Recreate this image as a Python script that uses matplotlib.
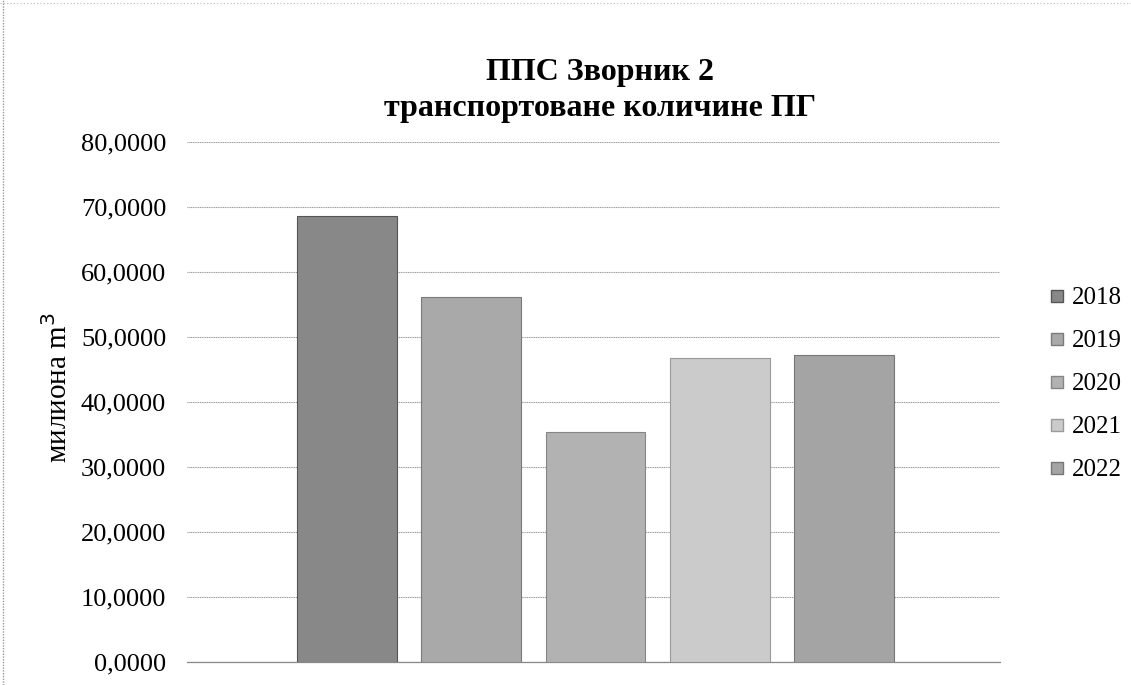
import matplotlib.pyplot as plt
from matplotlib.lines import Line2D

# data
years = ['2018', '2019', '2020', '2021', '2022']
volumes = [68.6, 56.2, 35.4, 46.8, 47.3]  # милиона m3
bar_colors = ['#888888', '#a9a9a9', '#b2b2b2', '#cbcbcb', '#a4a4a4']
edge_colors = ['#555555', '#7a7a7a', '#858585', '#9a9a9a', '#777777']
y_ticks = [0, 10, 20, 30, 40, 50, 60, 70, 80]

plt.rcParams['font.family'] = ['Liberation Serif', 'DejaVu Serif']

fig = plt.figure(figsize=(11.31, 6.85), dpi=100)
ax = fig.add_axes([187 / 1131, 1 - 662 / 685, (1000 - 187) / 1131, (662 - 142) / 685])

for i, (yr, val) in enumerate(zip(years, volumes)):
    ax.bar(i, val, width=0.8, color=bar_colors[i], edgecolor=edge_colors[i],
           linewidth=0.8, label=yr, zorder=3)

ax.set_xlim(-1.285, 5.253)
ax.set_ylim(0, 80)
ax.set_yticks(y_ticks)
ax.set_yticklabels([f'{t:.4f}'.replace('.', ',') for t in y_ticks], fontsize=19)
ax.set_xticks([])
ax.tick_params(axis='y', length=0, pad=15)

ax.grid(axis='y', color='#9a9a9a', linestyle=(0, (1, 0.6)), linewidth=0.8, zorder=0)
for s in ['top', 'right', 'left']:
    ax.spines[s].set_visible(False)
ax.spines['bottom'].set_color('#888888')
ax.spines['bottom'].set_linewidth(0.9)

ax.set_ylabel('милиона m$^3$', fontsize=21)
ax.yaxis.set_label_coords(-0.14, 0.527)

fig.text(600 / 1131, 1 - 80 / 685, 'ППС Зворник 2', ha='center', va='baseline',
         fontsize=23, fontweight='bold')
fig.text(600 / 1131, 1 - 116 / 685, 'транспортоване количине ПГ', ha='center',
         va='baseline', fontsize=23, fontweight='bold')

handles = [Line2D([], [], marker='s', linestyle='', markersize=9,
                  markerfacecolor=bar_colors[i], markeredgecolor=edge_colors[i])
           for i in range(len(years))]
fig.legend(handles, years, loc='center left', bbox_to_anchor=(1048 / 1131, 1 - 384 / 685),
           frameon=False, fontsize=18, handlelength=0.7, handletextpad=0.25,
           labelspacing=0.82, borderpad=0, borderaxespad=0)

# scanned page border on the left and top
fig.add_artist(Line2D([3 / 1131, 3 / 1131], [0, 1], color='#999999', lw=1,
                      linestyle=(0, (1, 1)), transform=fig.transFigure))
fig.add_artist(Line2D([0, 1], [1 - 3 / 685, 1 - 3 / 685], color='#bbbbbb', lw=0.8,
                      linestyle=(0, (1, 2)), transform=fig.transFigure))

fig.savefig('out.png', dpi=100)
